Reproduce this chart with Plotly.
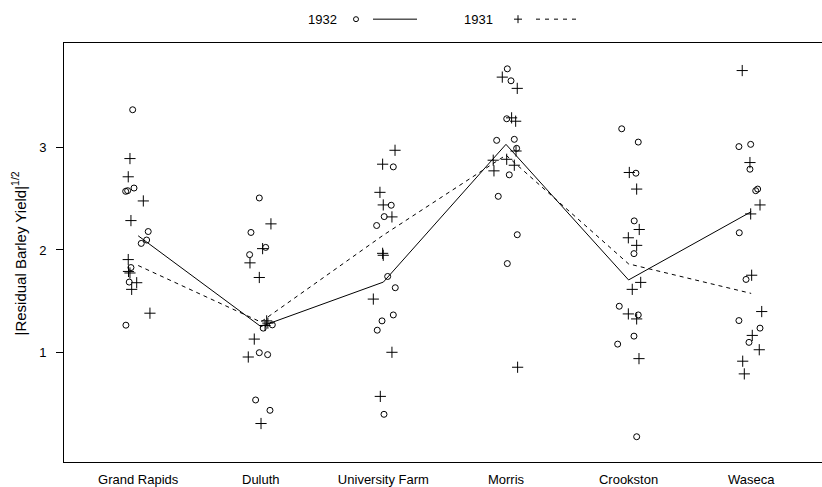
import numpy as np
import plotly.graph_objects as go

# Sites along the x axis
sites = ["Grand Rapids", "Duluth", "University Farm", "Morris", "Crookston", "Waseca"]

# Square-root absolute residuals, 10 varieties per site, 1932
res_1932 = [
    [3.37, 2.573, 2.579, 2.605, 2.18, 2.097, 2.064, 1.828, 1.686, 1.265],
    [2.508, 2.171, 2.025, 1.954, 1.236, 1.268, 0.996, 0.977, 0.534, 0.433],
    [2.812, 2.437, 2.326, 2.239, 1.741, 1.631, 1.365, 1.307, 1.216, 0.394],
    [3.77, 3.653, 3.282, 3.071, 3.081, 2.993, 2.734, 2.524, 2.149, 1.867],
    [3.184, 3.054, 2.75, 2.284, 1.964, 1.45, 1.365, 1.158, 1.08, 0.175],
    [3.01, 3.032, 2.789, 2.579, 2.595, 2.168, 1.712, 1.31, 1.236, 1.097],
]
# Horizontal jitter (category units) for the 1932 points
jit_1932 = [
    [-0.045, -0.102, -0.086, -0.034, 0.082, 0.069, 0.025, -0.059, -0.073, -0.100],
    [-0.012, -0.080, 0.040, -0.091, 0.020, 0.094, -0.012, 0.056, -0.042, 0.075],
    [0.081, 0.064, 0.007, -0.055, 0.035, 0.097, 0.081, -0.011, -0.050, 0.005],
    [0.011, 0.041, 0.006, -0.076, 0.068, 0.087, 0.027, -0.063, 0.092, 0.011],
    [-0.056, 0.079, 0.060, 0.046, 0.044, -0.076, 0.079, 0.044, -0.089, 0.066],
    [-0.100, -0.004, -0.010, 0.037, 0.053, -0.097, -0.042, -0.100, 0.072, -0.018],
]

# Square-root absolute residuals, 10 varieties per site, 1931
res_1931 = [
    [2.893, 2.715, 2.479, 2.287, 1.906, 1.79, 1.775, 1.680, 1.615, 1.382],
    [2.255, 2.013, 1.874, 1.731, 1.307, 1.285, 1.262, 1.129, 0.954, 0.304],
    [2.974, 2.838, 2.563, 2.44, 2.323, 1.967, 1.948, 1.52, 1.0, 0.569],
    [3.689, 3.579, 3.291, 3.258, 2.967, 2.886, 2.877, 2.828, 2.773, 0.854],
    [2.757, 2.595, 2.2, 2.119, 2.045, 1.683, 1.615, 1.375, 1.326, 0.938],
    [3.753, 2.854, 2.44, 2.352, 1.753, 1.398, 1.165, 1.025, 0.913, 0.789],
]
jit_1931 = [
    [-0.067, -0.081, 0.042, -0.059, -0.081, -0.079, -0.067, -0.012, -0.053, 0.096],
    [0.083, 0.015, -0.088, -0.012, 0.048, 0.058, 0.035, -0.053, -0.102, 0.002],
    [0.095, -0.006, -0.028, -0.001, 0.070, -0.006, -0.001, -0.082, 0.070, -0.025],
    [-0.030, 0.092, 0.046, 0.079, 0.082, 0.006, -0.104, 0.068, -0.098, 0.095],
    [0.006, 0.066, 0.087, -0.002, 0.066, 0.099, 0.030, -0.002, 0.066, 0.085],
    [-0.073, -0.010, 0.072, -0.004, 0.004, 0.086, 0.009, 0.066, -0.069, -0.056],
]

y_ticks = [1, 2, 3]

FONT = "Liberation Sans, Arial, Helvetica, sans-serif"
pos = np.arange(1, len(sites) + 1)


def flatten(res, jit):
    xs, ys = [], []
    for p, r, j in zip(pos, res, jit):
        xs.extend(p + np.array(j))
        ys.extend(r)
    return xs, ys


fig = go.Figure()

x32, y32 = flatten(res_1932, jit_1932)
x31, y31 = flatten(res_1931, jit_1931)

fig.add_trace(go.Scatter(
    x=x32, y=y32, mode="markers", name="1932",
    marker=dict(symbol="circle-open", size=6, color="black", line=dict(width=1, color="black")),
))
fig.add_trace(go.Scatter(
    x=x31, y=y31, mode="markers", name="1931",
    marker=dict(symbol="cross-thin-open", size=8, color="black", line=dict(width=1, color="black")),
))

# Site medians joined by lines
med32 = [float(np.median(r)) for r in res_1932]
med31 = [float(np.median(r)) for r in res_1931]
fig.add_trace(go.Scatter(x=pos, y=med32, mode="lines", line=dict(color="black", width=1)))
fig.add_trace(go.Scatter(x=pos, y=med31, mode="lines", line=dict(color="black", width=1, dash="4px,4px")))

# Key above the panel (paper coordinates)
L, T, W, H = 64, 43, 758, 422


def px(x):
    return (x - L) / W


def py(y):
    return (T + H - y) / H


ky = 19
shapes = [
    dict(type="circle", xref="paper", yref="paper",
         x0=px(353.5), x1=px(358.5), y0=py(ky + 2.5), y1=py(ky - 2.5),
         line=dict(color="black", width=1)),
    dict(type="line", xref="paper", yref="paper", x0=px(373), x1=px(417), y0=py(ky), y1=py(ky),
         line=dict(color="black", width=1)),
    dict(type="line", xref="paper", yref="paper", x0=px(514), x1=px(522), y0=py(ky), y1=py(ky),
         line=dict(color="black", width=1)),
    dict(type="line", xref="paper", yref="paper", x0=px(518), x1=px(518), y0=py(ky - 4), y1=py(ky + 4),
         line=dict(color="black", width=1)),
    dict(type="line", xref="paper", yref="paper", x0=px(536), x1=px(578), y0=py(ky), y1=py(ky),
         line=dict(color="black", width=1, dash="4px,5px")),
]

annotations = [
    dict(text="1932", xref="paper", yref="paper", x=px(322), y=py(ky), showarrow=False,
         xanchor="center", yanchor="middle", font=dict(family=FONT, size=13, color="black")),
    dict(text="1931", xref="paper", yref="paper", x=px(478), y=py(ky), showarrow=False,
         xanchor="center", yanchor="middle", font=dict(family=FONT, size=13, color="black")),
    dict(text="|Residual Barley Yield|<sup>1/2</sup>", xref="paper", yref="paper",
         x=px(19), y=py(255), textangle=-90, showarrow=False,
         xanchor="center", yanchor="middle", font=dict(family=FONT, size=15, color="black")),
]

fig.update_layout(
    width=822, height=487,
    margin=dict(l=L, r=822 - L - W, t=T, b=487 - T - H, pad=0),
    paper_bgcolor="white", plot_bgcolor="white",
    showlegend=False,
    font=dict(family=FONT, size=13, color="black"),
    shapes=shapes, annotations=annotations,
    xaxis=dict(
        range=[0.395, 0.395 + W / 122.6],
        tickmode="array", tickvals=list(pos), ticktext=sites,
        showgrid=False, zeroline=False,
        showline=True, linecolor="black", linewidth=1, mirror=True,
        ticks="", ticklabelstandoff=5,
        tickfont=dict(family=FONT, size=13, color="black"),
    ),
    yaxis=dict(
        range=[-0.072, -0.072 + H / 103.07],
        tickmode="array", tickvals=y_ticks,
        showgrid=False, zeroline=False,
        showline=True, linecolor="black", linewidth=1, mirror=False,
        ticks="outside", ticklen=7, tickcolor="black", tickwidth=1,
        ticklabelstandoff=7,
        tickfont=dict(family=FONT, size=13, color="black"),
    ),
)

fig.write_html("out.html")
